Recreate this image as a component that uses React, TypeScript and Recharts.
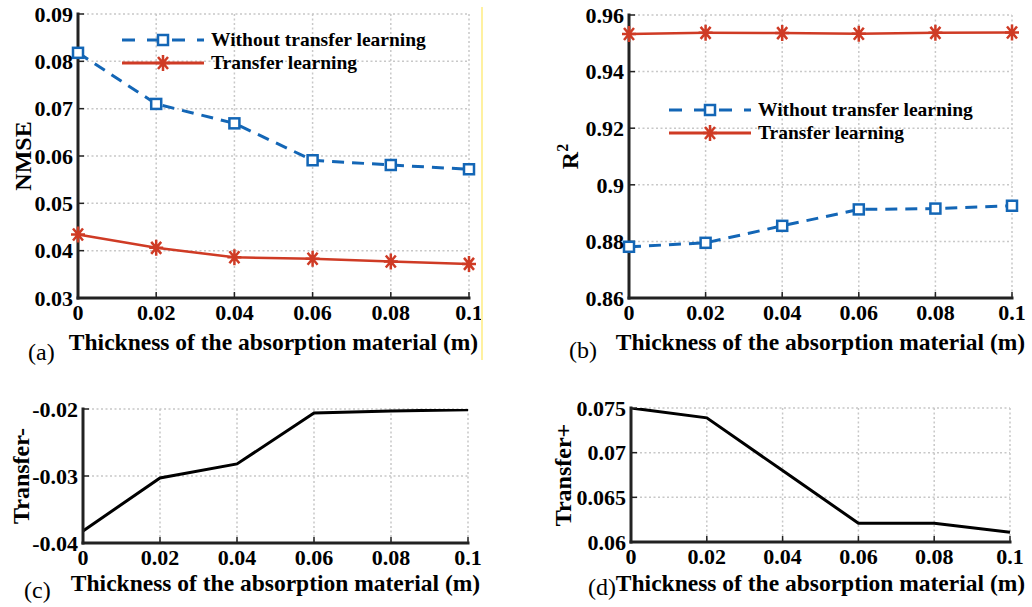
import { CartesianGrid, Legend, Line, LineChart, XAxis, YAxis } from "recharts";

const thickness = [0, 0.02, 0.04, 0.06, 0.08, 0.1];
const nmseWithout = [0.0818, 0.071, 0.0669, 0.0591, 0.0581, 0.0572];
const nmseTransfer = [0.0434, 0.0406, 0.0386, 0.0383, 0.0377, 0.0372];
const r2Without = [0.8781, 0.8795, 0.8855, 0.8913, 0.8916, 0.8926];
const r2Transfer = [0.9533, 0.9537, 0.9536, 0.9534, 0.9537, 0.9538];
const transferMinus = [-0.0382, -0.0303, -0.0282, -0.0206, -0.0203, -0.0201];
const transferPlus = [0.075, 0.0739, 0.068, 0.0621, 0.0621, 0.0611];

const xTicks = [0, 0.02, 0.04, 0.06, 0.08, 0.1];
const nmseTicks = [0.03, 0.04, 0.05, 0.06, 0.07, 0.08, 0.09];
const r2Ticks = [0.86, 0.88, 0.9, 0.92, 0.94, 0.96];
const minusTicks = [-0.04, -0.03, -0.02];
const plusTicks = [0.06, 0.065, 0.07, 0.075];

const FONT = '"Liberation Serif", "Times New Roman", serif';
const BLUE = "#1366b6";
const RED = "#cf3b25";
const AXIS = "#222";
const X_LABEL = "Thickness of the absorption material (m)";

const tableAB = thickness.map((x, i) => ({
  x,
  nmseW: nmseWithout[i],
  nmseT: nmseTransfer[i],
  r2W: r2Without[i],
  r2T: r2Transfer[i],
}));
const tableCD = thickness.map((x, i) => ({ x, minus: transferMinus[i], plus: transferPlus[i] }));

const tickFont = { fill: "#000", fontSize: 22, fontWeight: 700, fontFamily: FONT };
const labelFont = { fill: "#000", fontSize: 23.5, fontWeight: 700, fontFamily: FONT };
const axisLine = { stroke: AXIS, strokeWidth: 3, strokeLinecap: "square" as const };
const tickLine = { stroke: AXIS, strokeWidth: 1.5 };

const SquareDot = (props: any) => {
  const { cx, cy, index } = props;
  if (cx == null || cy == null) return <g key={index} />;
  return (
    <rect key={index} x={cx - 5} y={cy - 5} width={10} height={10} fill="#fff" stroke={BLUE} strokeWidth={2.5} />
  );
};

const StarDot = (props: any) => {
  const { cx, cy, index } = props;
  if (cx == null || cy == null) return <g key={index} />;
  return (
    <path
      key={index}
      d={`M${cx - 7},${cy}H${cx + 7}M${cx},${cy - 8}V${cy + 8}M${cx - 5},${cy - 6}L${cx + 5},${cy + 6}M${cx - 5},${cy + 6}L${cx + 5},${cy - 6}`}
      stroke={RED}
      strokeWidth={2.5}
      fill="none"
    />
  );
};

// R with a superscript 2, rotated like the other y labels
const r2Label = (p: any) => {
  const vb = p.viewBox || { x: 0, y: 0, width: 0, height: 0 };
  const cx = vb.x + 54;
  const cy = vb.y + vb.height / 2;
  return (
    <text
      x={cx}
      y={cy + 4}
      transform={`rotate(-90 ${cx} ${cy})`}
      textAnchor="middle"
      fill="#000"
      fontSize={24}
      fontWeight={700}
      fontFamily={FONT}
    >
      R
      <tspan dy={-10} fontSize={16}>
        2
      </tspan>
    </text>
  );
};

function LegendBox() {
  const row = { display: "flex", alignItems: "center", height: 23 };
  return (
    <div style={{ fontFamily: FONT, fontWeight: 700, fontSize: 19.5, color: "#000", whiteSpace: "nowrap" }}>
      <div style={row}>
        <svg width={82} height={20}>
          <line x1={0} x2={82} y1={10} y2={10} stroke={BLUE} strokeWidth={3} strokeDasharray="13 12" />
          <rect x={36} y={5} width={10} height={10} fill="#fff" stroke={BLUE} strokeWidth={2.5} />
        </svg>
        <span style={{ marginLeft: 7 }}>Without transfer learning</span>
      </div>
      <div style={row}>
        <svg width={82} height={20}>
          <line x1={0} x2={82} y1={10} y2={10} stroke={RED} strokeWidth={3} />
          <path d="M34,10H48M41,2V18M36,4L46,16M36,16L46,4" stroke={RED} strokeWidth={2.5} fill="none" />
        </svg>
        <span style={{ marginLeft: 7 }}>Transfer learning</span>
      </div>
    </div>
  );
}

function Panel(props: any) {
  const { left, top, width, height, margin, yWidth, xHeight, data, yDomain, yTicks, yLabel, xTickMargin, children } = props;
  return (
    <div style={{ position: "absolute", left, top }}>
      <LineChart width={width} height={height} data={data} margin={margin}>
        <CartesianGrid stroke="#c8c8c8" strokeWidth={1.5} strokeDasharray="2 2.5" />
        <XAxis
          dataKey="x"
          type="number"
          domain={[0, 0.1]}
          ticks={xTicks}
          height={xHeight}
          axisLine={axisLine}
          tickLine={tickLine}
          tickSize={-6}
          tickMargin={xTickMargin}
          tick={tickFont}
          interval={0}
          label={{ value: X_LABEL, position: "insideBottom", offset: 0, ...labelFont }}
        />
        <XAxis
          xAxisId="top"
          orientation="top"
          type="number"
          domain={[0, 0.1]}
          ticks={xTicks}
          height={0}
          axisLine={axisLine}
          tickLine={tickLine}
          tickSize={-6}
          tick={false}
        />
        <YAxis
          type="number"
          domain={yDomain}
          ticks={yTicks}
          width={yWidth}
          axisLine={axisLine}
          tickLine={tickLine}
          tickSize={-6}
          tickMargin={11}
          tick={tickFont}
          interval={0}
          allowDataOverflow
          label={yLabel}
        />
        <YAxis
          yAxisId="right"
          orientation="right"
          type="number"
          domain={yDomain}
          ticks={yTicks}
          width={0}
          axisLine={axisLine}
          tickLine={tickLine}
          tickSize={-6}
          tick={false}
        />
        {children}
      </LineChart>
    </div>
  );
}

const yTitle = (value: string, offset: number) => ({
  value,
  angle: -90,
  position: "insideLeft",
  offset,
  ...labelFont,
  fontSize: 24,
  style: { textAnchor: "middle" },
});

const letter = (text: string, x: number, y: number) => (
  <div
    style={{
      position: "absolute",
      left: x,
      top: y,
      fontFamily: FONT,
      fontSize: 24,
      lineHeight: "24px",
      color: "#000",
    }}
  >
    {text}
  </div>
);

export default function App() {
  return (
    <div style={{ position: "absolute", left: 0, top: 0, width: 1032, height: 607, background: "#fff", overflow: "hidden" }}>
      <Panel
        left={0}
        top={0}
        width={500}
        height={360}
        margin={{ top: 14, right: 31, bottom: 10, left: 0 }}
        yWidth={78}
        xHeight={52}
        xTickMargin={12}
        data={tableAB}
        yDomain={[0.03, 0.09]}
        yTicks={nmseTicks}
        yLabel={yTitle("NMSE", 22)}
      >
        <Line dataKey="nmseW" stroke={BLUE} strokeWidth={3} strokeDasharray="12 8" dot={SquareDot} isAnimationActive={false} />
        <Line dataKey="nmseT" stroke={RED} strokeWidth={2.5} dot={StarDot} isAnimationActive={false} />
        <Legend
          layout="vertical"
          align="center"
          verticalAlign="middle"
          content={() => <LegendBox />}
          wrapperStyle={{ left: 122, top: 28, width: 340 }}
        />
      </Panel>
      <Panel
        left={520}
        top={0}
        width={512}
        height={360}
        margin={{ top: 15, right: 20, bottom: 10, left: 0 }}
        yWidth={109}
        xHeight={52}
        xTickMargin={12}
        data={tableAB}
        yDomain={[0.86, 0.96]}
        yTicks={r2Ticks}
        yLabel={r2Label}
      >
        <Line dataKey="r2W" stroke={BLUE} strokeWidth={3} strokeDasharray="12 8" dot={SquareDot} isAnimationActive={false} />
        <Line dataKey="r2T" stroke={RED} strokeWidth={2.5} dot={StarDot} isAnimationActive={false} />
        <Legend
          layout="vertical"
          align="center"
          verticalAlign="middle"
          content={() => <LegendBox />}
          wrapperStyle={{ left: 149, top: 98, width: 340 }}
        />
      </Panel>
      <Panel
        left={0}
        top={380}
        width={500}
        height={227}
        margin={{ top: 29, right: 32, bottom: 16, left: 0 }}
        yWidth={83}
        xHeight={48}
        xTickMargin={12}
        data={tableCD}
        yDomain={[-0.04, -0.02]}
        yTicks={minusTicks}
        yLabel={yTitle("Transfer-", 20)}
      >
        <Line dataKey="minus" stroke="#000" strokeWidth={3} dot={false} isAnimationActive={false} />
      </Panel>
      <Panel
        left={520}
        top={380}
        width={512}
        height={227}
        margin={{ top: 28, right: 22, bottom: 16, left: 0 }}
        yWidth={111}
        xHeight={49}
        xTickMargin={12}
        data={tableCD}
        yDomain={[0.06, 0.075]}
        yTicks={plusTicks}
        yLabel={yTitle("Transfer+", 42)}
      >
        <Line dataKey="plus" stroke="#000" strokeWidth={3} dot={false} isAnimationActive={false} />
      </Panel>
      {letter("(a)", 28, 340)}
      {letter("(b)", 569, 338)}
      {letter("(c)", 24, 578)}
      {letter("(d)", 588, 575)}
      <div style={{ position: "absolute", left: 481, top: 7, width: 1.5, height: 353, background: "#fff1a0" }} />
    </div>
  );
}
